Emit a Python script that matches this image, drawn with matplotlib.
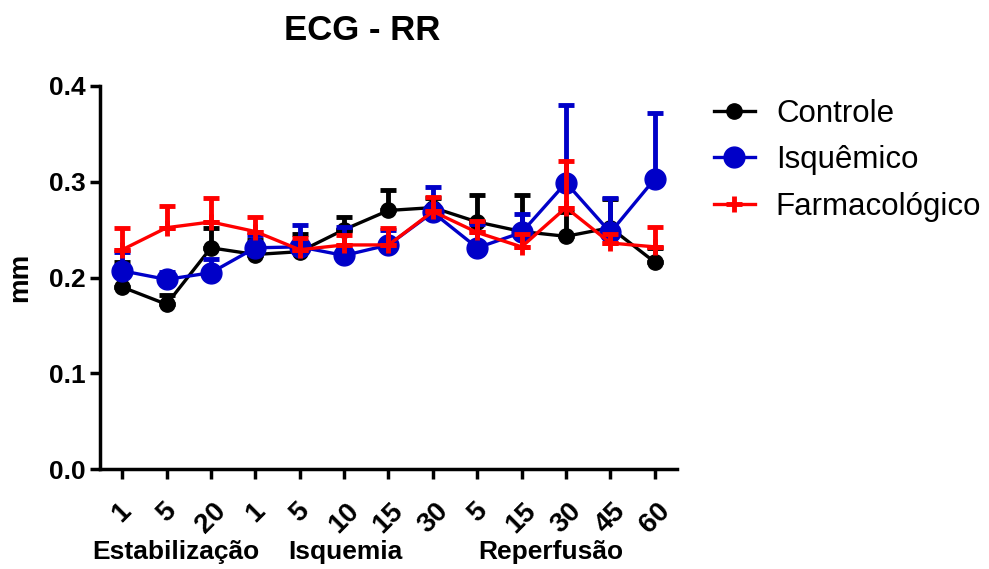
import matplotlib
matplotlib.use("Agg")
import matplotlib.pyplot as plt
from matplotlib.lines import Line2D
import numpy as np

plt.rcParams['font.family'] = ['Liberation Sans', 'DejaVu Sans']

tick_labels = ["1", "5", "20", "1", "5", "10", "15", "30", "5", "15", "30", "45", "60"]
groups = ["Estabilização", "Isquemia", "Reperfusão"]

controle = [0.190, 0.172, 0.231, 0.224, 0.227, 0.250, 0.270, 0.273, 0.258, 0.248, 0.243, 0.252, 0.216]
controle_err = [0.026, 0.010, 0.021, 0.015, 0.018, 0.013, 0.021, 0.010, 0.028, 0.038, 0.025, 0.030, 0.015]

isquemico = [0.207, 0.198, 0.205, 0.231, 0.232, 0.223, 0.234, 0.268, 0.231, 0.247, 0.299, 0.247, 0.303]
isquemico_err = [0.020, 0.008, 0.014, 0.013, 0.023, 0.030, 0.016, 0.026, 0.025, 0.019, 0.081, 0.036, 0.069]

farmacologico = [0.229, 0.252, 0.258, 0.248, 0.229, 0.234, 0.234, 0.269, 0.247, 0.232, 0.273, 0.236, 0.232]
farmacologico_err = [0.023, 0.023, 0.025, 0.015, 0.012, 0.010, 0.018, 0.015, 0.012, 0.013, 0.049, 0.009, 0.021]

BLUE = '#0000C8'
RED = '#FF0000'

fig = plt.figure(figsize=(9.89, 5.69), dpi=100)
ax = fig.add_axes([0.1011, 0.1757, 0.5834, 0.6732])

x = np.arange(len(tick_labels))
lw = 2.4
zeros = np.zeros(len(x))

ax.errorbar(x, controle, yerr=[zeros, controle_err], color='black',
            marker='o', ms=11, lw=lw, elinewidth=3.5, capsize=6, capthick=3.5, zorder=3)
ax.errorbar(x, isquemico, yerr=[zeros, isquemico_err], color=BLUE,
            marker='o', ms=15, lw=lw, elinewidth=3.5, capsize=6, capthick=3.5, zorder=4)
ax.errorbar(x, farmacologico, yerr=[zeros, farmacologico_err], color=RED,
            marker='+', ms=12, mew=3.5, lw=lw, elinewidth=3.5, capsize=6, capthick=3.5, zorder=5)

ax.set_xlim(-0.5, 12.5)
ax.set_ylim(0, 0.4)
ax.set_yticks([0.0, 0.1, 0.2, 0.3, 0.4])
ax.set_yticklabels(["0.0", "0.1", "0.2", "0.3", "0.4"], fontsize=19, fontweight='bold')
ax.set_xticks(x)
ax.set_xticklabels(tick_labels, fontsize=20, fontweight='bold', rotation=45, ha='center')

for side in ['top', 'right']:
    ax.spines[side].set_visible(False)
for side in ['left', 'bottom']:
    ax.spines[side].set_linewidth(2.5)
ax.tick_params(axis='both', direction='out', length=7, width=2.5, pad=3)
ax.tick_params(axis='x', pad=14)

ax.set_ylabel("mm", fontsize=20, fontweight='bold', labelpad=12)
fig.text(362 / 989, 1 - 30 / 569, "ECG - RR", fontsize=25, fontweight='bold',
         ha='center', va='center')

group_centers = [1.2, 5.03, 9.65]
for gx, g in zip(group_centers, groups):
    ax.text(gx, -0.087, g, fontsize=19, fontweight='bold', ha='center', va='center',
            clip_on=False)

handles = [
    Line2D([], [], color='black', lw=lw, marker='o', ms=11),
    Line2D([], [], color=BLUE, lw=lw, marker='o', ms=15),
    Line2D([], [], color=RED, lw=lw, marker='+', ms=12, mew=3.5),
]
fig.legend(handles, ["Controle", "Isquêmico", "Farmacológico"],
           loc='upper left', bbox_to_anchor=(714 / 989, 1 - 99 / 569),
           frameon=False, fontsize=22.5, borderaxespad=0, borderpad=0,
           handlelength=1.3, handletextpad=0.68, labelspacing=0.52)

fig.savefig("out.png", dpi=100)
